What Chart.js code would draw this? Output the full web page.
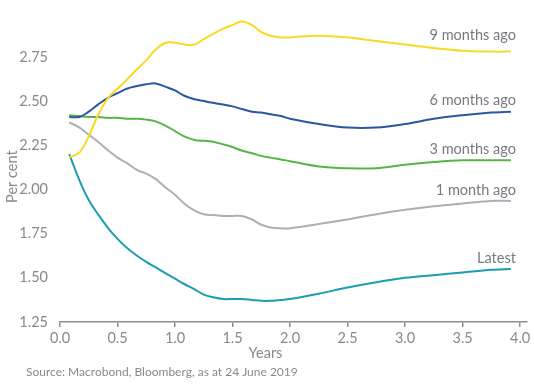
<!DOCTYPE html>
<html>
<head>
<meta charset="utf-8">
<script src="https://cdn.jsdelivr.net/npm/chart.js@4.4.1/dist/chart.umd.min.js"></script>
<style>
  html, body { margin: 0; padding: 0; background: #fff; }
  #wrap { width: 534px; height: 386px; position: relative; }
</style>
</head>
<body>
<div id="wrap"><canvas id="curves"></canvas></div>
<script>
// maturity in years
var years = [0.08, 0.17, 0.25, 0.33, 0.42, 0.5, 0.58, 0.67, 0.75, 0.83, 0.92, 1.0, 1.08, 1.17, 1.25, 1.33,
  1.42, 1.5, 1.58, 1.67, 1.75, 1.83, 1.92, 2.0, 2.25, 2.5, 2.75, 3.0, 3.25, 3.5, 3.75, 3.92];

var nineMonths = [2.18, 2.21, 2.30, 2.42, 2.52, 2.57, 2.62, 2.68, 2.73, 2.79, 2.83, 2.83, 2.82, 2.82, 2.85, 2.88,
  2.91, 2.93, 2.95, 2.93, 2.89, 2.87, 2.86, 2.86, 2.87, 2.86, 2.84, 2.82, 2.80, 2.785, 2.78, 2.78];
var sixMonths = [2.41, 2.41, 2.44, 2.48, 2.52, 2.545, 2.57, 2.585, 2.595, 2.60, 2.58, 2.56, 2.53, 2.51, 2.50, 2.49,
  2.48, 2.47, 2.455, 2.44, 2.435, 2.425, 2.415, 2.40, 2.37, 2.35, 2.35, 2.37, 2.40, 2.42, 2.435, 2.44];
var threeMonths = [2.42, 2.415, 2.41, 2.41, 2.405, 2.405, 2.40, 2.40, 2.395, 2.385, 2.36, 2.33, 2.30, 2.28, 2.275, 2.27,
  2.255, 2.24, 2.22, 2.205, 2.19, 2.18, 2.17, 2.16, 2.13, 2.12, 2.12, 2.14, 2.155, 2.165, 2.165, 2.165];
var oneMonth = [2.38, 2.35, 2.31, 2.27, 2.22, 2.18, 2.15, 2.11, 2.09, 2.06, 2.01, 1.97, 1.92, 1.88, 1.86, 1.855,
  1.85, 1.85, 1.85, 1.83, 1.80, 1.785, 1.78, 1.78, 1.805, 1.83, 1.86, 1.885, 1.905, 1.92, 1.935, 1.935];
var latest = [2.20, 2.05, 1.94, 1.86, 1.78, 1.72, 1.67, 1.625, 1.59, 1.56, 1.525, 1.495, 1.465, 1.435, 1.405, 1.39,
  1.38, 1.38, 1.38, 1.375, 1.37, 1.37, 1.375, 1.38, 1.41, 1.445, 1.475, 1.50, 1.515, 1.53, 1.545, 1.55];

var seriesNames = ['9 months ago', '6 months ago', '3 months ago', '1 month ago', 'Latest'];
var seriesColours = ['#f8da24', '#2b56a4', '#58b44a', '#aab0b6', '#1c9db1'];
var yTicks = [1.25, 1.5, 1.75, 2.0, 2.25, 2.5, 2.75];
var xTicks = [0, 0.5, 1.0, 1.5, 2.0, 2.5, 3.0, 3.5, 4.0];

var textGrey = '#868a90';
var fontFam = 'Lato, "Open Sans", sans-serif';

function pts(vals) {
  return vals.map(function (v, i) { return { x: years[i], y: v }; });
}

var allSeries = [nineMonths, sixMonths, threeMonths, oneMonth, latest];
var datasets = allSeries.map(function (vals, i) {
  return {
    label: seriesNames[i],
    data: pts(vals),
    borderColor: seriesColours[i],
    borderWidth: 2,
    pointRadius: 0,
    tension: 0.35,
    fill: false
  };
});

// end labels, axis titles and source note
var extras = {
  id: 'extras',
  afterDatasetsDraw: function (chart) {
    var c = chart.ctx, a = chart.chartArea;
    c.save();
    c.fillStyle = '#767a80';
    c.font = '14.5px ' + fontFam;
    c.textAlign = 'right';
    c.textBaseline = 'middle';
    chart.data.datasets.forEach(function (ds, i) {
      var meta = chart.getDatasetMeta(i);
      var last = meta.data[meta.data.length - 1];
      c.fillText(ds.label, last.x + 5, last.y - (i === 0 ? 16 : 11));
    });

    c.fillStyle = textGrey;
    c.textAlign = 'center';
    c.font = '14.5px ' + fontFam;
    c.fillText('Years', a.left + (a.right - a.left) * 0.44, a.bottom + 31);

    c.textAlign = 'left';
    c.font = '12px ' + fontFam;
    c.fillText('Source: Macrobond, Bloomberg, as at 24 June 2019', 26, a.bottom + 50);

    c.translate(12, a.top + (a.bottom - a.top) * 0.53);
    c.rotate(-Math.PI / 2);
    c.textAlign = 'center';
    c.font = '14.5px ' + fontFam;
    c.fillText('Per cent', 0, 0);
    c.restore();
  }
};

new Chart(document.getElementById('curves'), {
  type: 'line',
  data: { datasets: datasets },
  plugins: [extras],
  options: {
    responsive: true,
    maintainAspectRatio: false,
    animation: false,
    layout: { padding: { top: 4, right: 7, left: 0, bottom: 0 } },
    plugins: { legend: { display: false }, tooltip: { enabled: false } },
    scales: {
      x: {
        type: 'linear',
        min: 0,
        max: 4.06,
        afterFit: function (s) { s.height = 64; },
        afterBuildTicks: function (s) {
          s.ticks = xTicks.map(function (v) { return { value: v }; });
        },
        grid: { display: true, drawOnChartArea: false, drawTicks: true, tickLength: 5, color: '#8a8f95', lineWidth: 1.5 },
        border: { display: true, color: '#8a8f95', width: 1.5 },
        ticks: {
          padding: 3,
          color: textGrey,
          font: { family: fontFam, size: 14.5 },
          maxRotation: 0,
          callback: function (v) { return v.toFixed(1); }
        }
      },
      y: {
        min: 1.25,
        max: 3.0,
        afterFit: function (s) { s.width = 60; },
        afterBuildTicks: function (s) {
          s.ticks = yTicks.map(function (v) { return { value: v }; });
        },
        grid: { display: false },
        border: { display: false },
        ticks: {
          padding: 4,
          color: textGrey,
          font: { family: fontFam, size: 14.5 },
          callback: function (v) { return v.toFixed(2); }
        }
      }
    }
  }
});
</script>
</body>
</html>
